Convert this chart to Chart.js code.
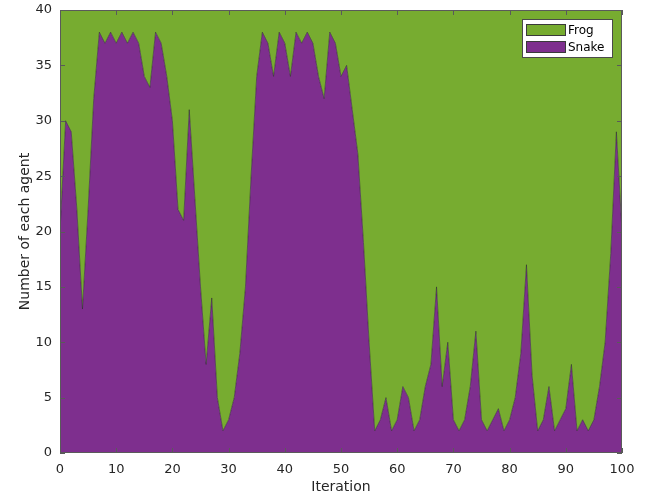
<!DOCTYPE html>
<html>
<head>
<meta charset="utf-8">
<script src="https://cdn.jsdelivr.net/npm/chart.js@4"></script>
<style>
  body { margin: 0; background: #fff; }
  canvas { display: block; }
</style>
</head>
<body>
<canvas id="agentChart" width="647" height="500"></canvas>
<script>
  const iterations = [];
  for (let i = 0; i <= 100; i++) iterations.push(i);

  // one value per iteration
  const snakeCounts = [
    20, 30, 29, 22, 13, 22, 32, 38, 37, 38,
    37, 38, 37, 38, 37, 34, 33, 38, 37, 34,
    30, 22, 21, 31, 23, 15, 8, 14, 5, 2,
    3, 5, 9, 15, 25, 34, 38, 37, 34, 38,
    37, 34, 38, 37, 38, 37, 34, 32, 38, 37,
    34, 35, 31, 27, 19, 10, 2, 3, 5, 2,
    3, 6, 5, 2, 3, 6, 8, 15, 6, 10,
    3, 2, 3, 6, 11, 3, 2, 3, 4, 2,
    3, 5, 9, 17, 7, 2, 3, 6, 2, 3,
    4, 8, 2, 3, 2, 3, 6, 10, 18, 29,
    20
  ];
  const frogCounts = [
    20, 10, 11, 18, 27, 18, 8, 2, 3, 2,
    3, 2, 3, 2, 3, 6, 7, 2, 3, 6,
    10, 18, 19, 9, 17, 25, 32, 26, 35, 38,
    37, 35, 31, 25, 15, 6, 2, 3, 6, 2,
    3, 6, 2, 3, 2, 3, 6, 8, 2, 3,
    6, 5, 9, 13, 21, 30, 38, 37, 35, 38,
    37, 34, 35, 38, 37, 34, 32, 25, 34, 30,
    37, 38, 37, 34, 29, 37, 38, 37, 36, 38,
    37, 35, 31, 23, 33, 38, 37, 34, 38, 37,
    36, 32, 38, 37, 38, 37, 34, 30, 22, 11,
    20
  ];
  const xTickValues = [0, 10, 20, 30, 40, 50, 60, 70, 80, 90, 100];
  const yTickValues = [0, 5, 10, 15, 20, 25, 30, 35, 40];

  const GREEN = "#77ac30";
  const PURPLE = "#7e2f8e";
  const EDGE = "rgba(45, 45, 45, 0.75)";
  const AXIS = "#262626";

  /**
   * Box round the axes with inward ticks, plus legend in the top right corner
   */
  const matlabFrame = {
    id: "matlabFrame",
    afterDraw(chart) {
      const { ctx, chartArea: a, scales } = chart;
      const tick = 5;
      ctx.save();
      ctx.strokeStyle = "#5a5a5a";
      ctx.lineWidth = 1;
      ctx.strokeRect(a.left + 0.5, a.top + 0.5, a.right - a.left - 1, a.bottom - a.top - 1);

      ctx.beginPath();
      scales.x.ticks.forEach((t) => {
        const px = Math.round(scales.x.getPixelForValue(t.value)) + 0.5;
        ctx.moveTo(px, a.bottom);
        ctx.lineTo(px, a.bottom - tick);
        ctx.moveTo(px, a.top);
        ctx.lineTo(px, a.top + tick);
      });
      scales.y.ticks.forEach((t) => {
        const py = Math.round(scales.y.getPixelForValue(t.value)) + 0.5;
        ctx.moveTo(a.left, py);
        ctx.lineTo(a.left + tick, py);
        ctx.moveTo(a.right, py);
        ctx.lineTo(a.right - tick, py);
      });
      ctx.stroke();

      // legend, Frog on top
      const items = chart.data.datasets.slice().reverse();
      const boxX = a.right - 100;
      const boxY = a.top + 9;
      ctx.fillStyle = "#fff";
      ctx.fillRect(boxX, boxY, 91, 39);
      ctx.strokeStyle = "#4a4a4a";
      ctx.strokeRect(boxX + 0.5, boxY + 0.5, 90, 38);
      ctx.font = "12px 'DejaVu Sans'";
      ctx.textBaseline = "middle";
      items.forEach((ds, i) => {
        const sy = boxY + 5 + i * 17;
        ctx.fillStyle = ds.backgroundColor;
        ctx.fillRect(boxX + 4, sy, 40, 12);
        ctx.strokeStyle = "#3a3a3a";
        ctx.strokeRect(boxX + 4.5, sy + 0.5, 39, 11);
        ctx.fillStyle = "#000";
        ctx.fillText(ds.label, boxX + 46, sy + 6.5);
      });
      ctx.restore();
    },
  };

  const toPoints = (values) => iterations.map((it, i) => ({ x: it, y: values[i] }));

  new Chart(document.getElementById("agentChart"), {
    type: "line",
    data: {
      datasets: [
        {
          label: "Snake",
          data: toPoints(snakeCounts),
          backgroundColor: PURPLE,
          borderColor: EDGE,
          borderWidth: 0.8,
          fill: "origin",
          pointRadius: 0,
          tension: 0,
        },
        {
          label: "Frog",
          data: toPoints(frogCounts),
          backgroundColor: GREEN,
          borderColor: EDGE,
          borderWidth: 0.8,
          fill: "-1",
          pointRadius: 0,
          tension: 0,
        },
      ],
    },
    options: {
      responsive: false,
      animation: false,
      layout: {
        padding: { top: 10, right: 25, left: 0, bottom: 0 },
      },
      plugins: {
        legend: { display: false },
        tooltip: { enabled: false },
      },
      scales: {
        x: {
          type: "linear",
          min: 0,
          max: 100,
          afterBuildTicks: (s) => {
            s.ticks = xTickValues.map((v) => ({ value: v }));
          },
          afterFit: (s) => {
            s.height = 47;
            s.paddingLeft = 0;
            s.paddingRight = 0;
          },
          grid: { display: false },
          border: { display: false },
          ticks: {
            autoSkip: false,
            maxRotation: 0,
            padding: 1,
            color: AXIS,
            font: { family: "DejaVu Sans", size: 13 },
          },
          title: {
            display: true,
            text: "Iteration",
            color: AXIS,
            font: { family: "DejaVu Sans", size: 14 },
            padding: { top: 0, bottom: 4 },
          },
        },
        y: {
          stacked: true,
          min: 0,
          max: 40,
          afterBuildTicks: (s) => {
            s.ticks = yTickValues.map((v) => ({ value: v }));
          },
          afterFit: (s) => {
            s.width = 60;
            s.paddingTop = 0;
            s.paddingBottom = 0;
          },
          grid: { display: false },
          border: { display: false },
          ticks: {
            padding: 0,
            color: AXIS,
            font: { family: "DejaVu Sans", size: 13 },
          },
          title: {
            display: true,
            text: "Number of each agent",
            color: AXIS,
            font: { family: "DejaVu Sans", size: 14 },
            padding: { top: 17, bottom: 0 },
          },
        },
      },
    },
    plugins: [matlabFrame],
  });
</script>
</body>
</html>
